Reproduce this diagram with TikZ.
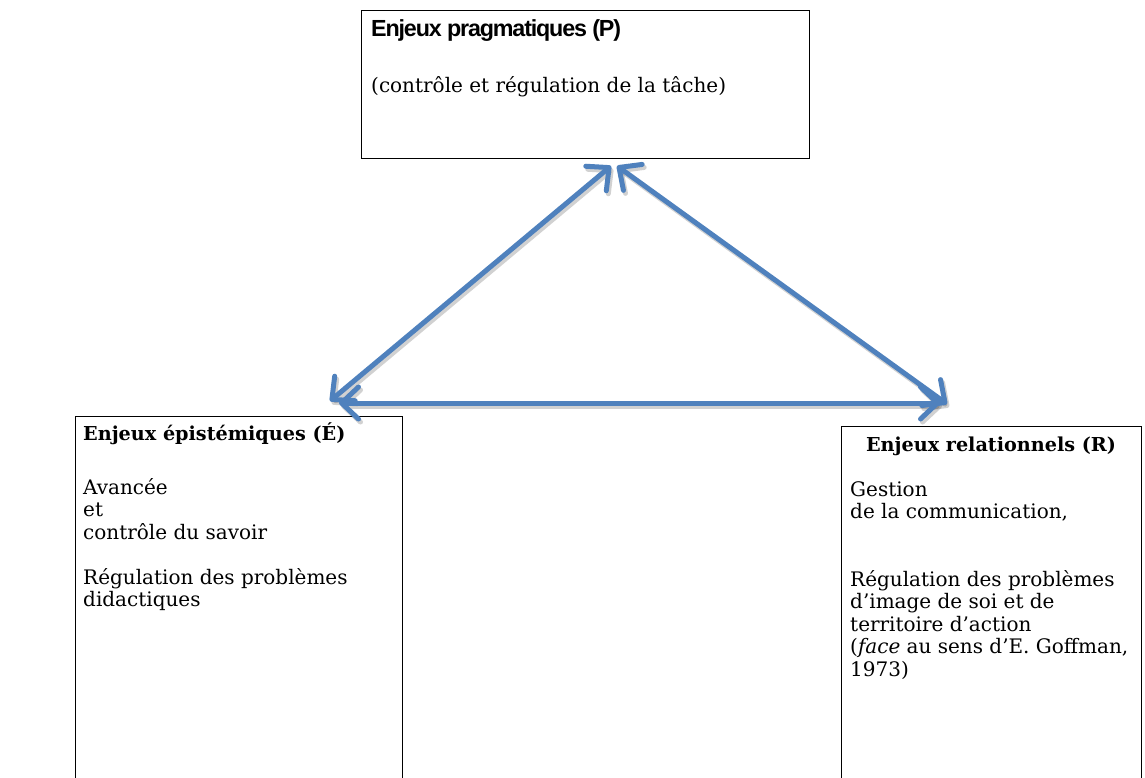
\documentclass[tikz,border=0pt]{standalone}
\usepackage{fontspec}
\setmainfont{DejaVu Serif}
\newfontfamily\titlesans[LetterSpace=-5.0]{Liberation Sans}
\usetikzlibrary{arrows.meta}
\definecolor{linkblue}{HTML}{4F81BD}
\begin{document}
\begin{tikzpicture}[x=1pt,y=-1pt,
  frame/.style={draw=black,line width=1pt,rectangle,inner sep=0pt,anchor=north west},
  body/.style={anchor=base west,inner sep=0pt,font=\fontsize{20}{22.5}\selectfont},
  head/.style={anchor=base west,inner sep=0pt,font=\fontsize{19.2}{22.5}\selectfont\bfseries},
  link/.style={line width=5pt,draw=linkblue,line cap=round,
    {Straight Barb[length=17pt,width=32pt,round]}-{Straight Barb[length=17pt,width=32pt,round]}},
  linkshadow/.style={link,draw=black,opacity=0.18,transform canvas={shift={(2pt,-3pt)}}}
]
\useasboundingbox (0,0) rectangle (1145,778);
\clip (0,0) rectangle (1145,778);
% boxes
\node[frame,minimum width=448pt,minimum height=148pt] (P) at (361,10) {};
\node[frame,minimum width=327pt,minimum height=400pt] (E) at (75,416) {};
\node[frame,minimum width=300pt,minimum height=400pt] (R) at (841,426) {};
% P text
\node[anchor=base west,inner sep=0pt,font=\titlesans\bfseries\fontsize{23.3}{26}\selectfont] (P1) at (371,37) {Enjeux pragmatiques (P)};
\node[body] (P2) at (371,93) {(contrôle et régulation de la tâche)};
% E text
\node[head] (E1) at (83,440) {Enjeux épistémiques (É)};
\node[body] (E2) at (83,494) {Avancée};
\node[body] (E3) at (83,516.5) {et};
\node[body] (E4) at (83,539) {contrôle du savoir};
\node[body] (E5) at (83,584) {Régulation des problèmes};
\node[body] (E6) at (83,606.5) {didactiques};
% R text
\node[head,anchor=base] (R1) at (991,451) {Enjeux relationnels (R)};
\node[body] (R2) at (850,496) {Gestion};
\node[body] (R3) at (850,518.5) {de la communication,};
\node[body] (R4) at (850,586) {Régulation des problèmes};
\node[body] (R5) at (850,608.5) {d’image de soi et de};
\node[body] (R6) at (850,631) {territoire d’action};
\node[body] (R7) at (850,653.5) {(\textit{face} au sens d’E. Goffman,};
\node[body] (R8) at (850,676) {1973)};
% arrow end points
\coordinate (eTop) at (330,401);
\coordinate (pLeft) at (611,166);
\coordinate (pRight) at (617,166);
\coordinate (rTop) at (947,404);
\coordinate (eSide) at (339,403);
\coordinate (rSide) at (940,403);
% shadows
\draw[linkshadow] (eTop) -- (pLeft);
\draw[linkshadow] (pRight) -- (rTop);
\draw[linkshadow] (eSide) -- (rSide);
% arrows
\draw[link] (eTop) -- (pLeft);
\draw[link] (pRight) -- (rTop);
\draw[link] (eSide) -- (rSide);
\end{tikzpicture}
\end{document}
